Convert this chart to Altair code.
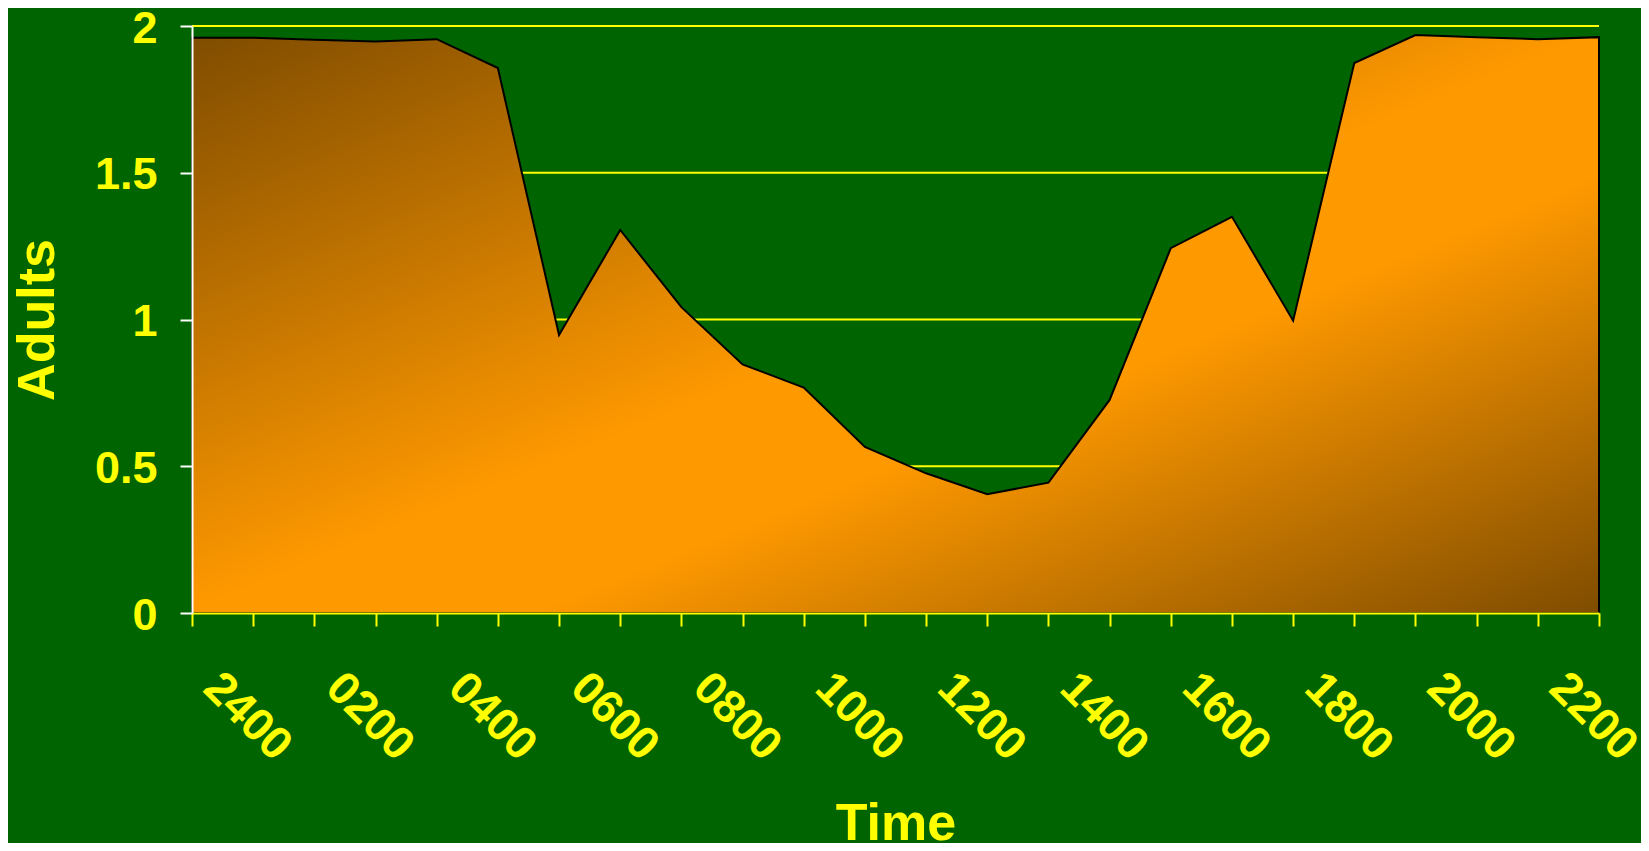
import altair as alt
import pandas as pd

time_labels = ["2400", "0100", "0200", "0300", "0400", "0500", "0600", "0700",
               "0800", "0900", "1000", "1100", "1200", "1300", "1400", "1500",
               "1600", "1700", "1800", "1900", "2000", "2100", "2200", "2300"]
adults = [1.96, 1.96, 1.953, 1.947, 1.955, 1.857, 0.947, 1.305,
          1.042, 0.847, 0.768, 0.566, 0.476, 0.405, 0.444, 0.726,
          1.243, 1.350, 0.996, 1.874, 1.969, 1.962, 1.955, 1.962]
grid_values = [0.5, 1.0, 1.5, 2.0]
y_ticks = [0, 0.5, 1, 1.5, 2]

BG = "#006400"
YELLOW = "#ffff00"
FONT = "Liberation Sans"

df = pd.DataFrame({"Time": time_labels, "Adults": adults})
grid_df = pd.DataFrame({"g": grid_values})

x_enc = alt.X(
    "Time:O",
    sort=time_labels,
    scale=alt.Scale(type="point", padding=0),
    axis=alt.Axis(
        title="Time",
        labelExpr="toNumber(datum.label) % 200 == 0 ? datum.label : ''",
        labelAngle=45,
        labelAlign="left",
        labelBaseline="alphabetic",
        labelPadding=64,
        labelOffset=9,
        labelOverlap=False,
        labelBound=False,
        labelFlush=False,
        labelColor=YELLOW,
        labelFont=FONT,
        labelFontSize=46,
        labelFontWeight="bold",
        tickColor=YELLOW,
        tickSize=13,
        tickWidth=2,
        domainColor=YELLOW,
        domainWidth=2,
        grid=False,
        titleColor=YELLOW,
        titleFont=FONT,
        titleFontSize=52,
        titleFontWeight="bold",
        titleBaseline="alphabetic",
        titleY=226,
        zindex=1,
    ),
)

y_scale = alt.Scale(domain=[0, 2], nice=False)

grid = alt.Chart(grid_df).mark_rule(color=YELLOW, strokeWidth=2).encode(
    y=alt.Y("g:Q", scale=y_scale)
)

area = alt.Chart(df).mark_area(
    color=alt.Gradient(
        gradient="linear",
        stops=[
            alt.GradientStop(color="#7f4c00", offset=0),
            alt.GradientStop(color="#ff9900", offset=0.5),
            alt.GradientStop(color="#ff9900", offset=0.62),
            alt.GradientStop(color="#7f4c00", offset=1),
        ],
        x1=0, y1=0, x2=1, y2=1,
    ),
    stroke="black",
    strokeWidth=2,
    opacity=1,
).encode(
    x=x_enc,
    y=alt.Y(
        "Adults:Q",
        stack=None,
        scale=y_scale,
        axis=alt.Axis(
            title="Adults",
            values=y_ticks,
            labelExpr="datum.value == 0 ? '0' : format(datum.value, '')",
            labelColor=YELLOW,
            labelFont=FONT,
            labelFontSize=45,
            labelFontWeight="bold",
            labelPadding=23,
            labelBaseline="middle",
            labelOffset=2,
            labelFlush=False,
            tickColor="white",
            tickSize=12,
            tickWidth=2,
            domainColor="white",
            domainWidth=2,
            grid=False,
            titleColor=YELLOW,
            titleFont=FONT,
            titleFontSize=52,
            titleFontWeight="bold",
            titleAngle=270,
            titleBaseline="alphabetic",
            titleAlign="center",
            titleX=-139,
            titleY=293.5,
            zindex=1,
        ),
    ),
)

chart = alt.layer(grid, area).properties(
    width=1407,
    height=587,
    background=BG,
    padding={"left": 184, "top": 18, "right": 42, "bottom": 230},
    autosize=alt.AutoSizeParams(type="none"),
).configure_view(stroke=None)

chart.save("out.html", embed_options={"renderer": "svg", "actions": False})
